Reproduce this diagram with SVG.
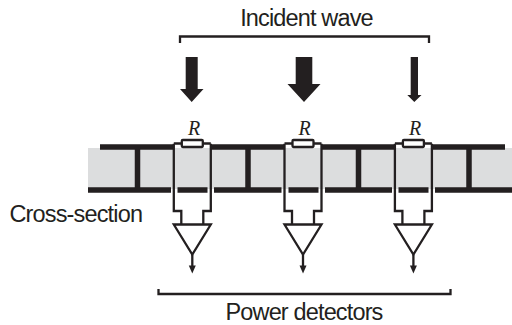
<svg xmlns="http://www.w3.org/2000/svg" width="512" height="325" viewBox="0 0 512 325">
<defs>
<style>
.t{font-family:"Liberation Sans",Arial,sans-serif;font-size:23.500px;fill:#231f20;letter-spacing:-.85px}
.r{font-family:"Liberation Serif","Times New Roman",serif;font-style:italic;font-size:20px;fill:#231f20}
.thick{stroke:#231f20;stroke-width:5.500;fill:none}
.thin{stroke:#231f20;stroke-width:2.300;fill:none}
.a{fill:#231f20}
</style>
<g id="det">
<path class="thin" d="M-18.500 -2.700V64.500H-11V78M18.500 -2.700V64.500H11V78"/>
<path class="thin" d="M-18.500 -3H-10.500M10.500 -3H18.500"/>
<rect x="-10.500" y="-6.500" width="21" height="7" rx="1" fill="#fff" stroke="#231f20" stroke-width="2.300"/>
<path d="M-18.500 78H18.500L0 108Z" fill="#fff" stroke="#231f20" stroke-width="2.300" stroke-linejoin="miter"/>
<path class="thin" d="M0 108V120"/>
<path class="a" d="M-3.500 119H3.500L0 127Z"/>
</g>
</defs>
<rect id="substrate" x="88" y="148" width="424" height="41" fill="#dcddde"/>
<g id="connectors">
<path class="thick" d="M100 147H174M211 147H285M322 147H395M432 147H505"/>
<path class="thick" d="M88 190H171M177.500 190H207.500M214 190H281.500M288.500 190H318.500M325 190H392M398.500 190H428.500M435 190H512"/>
<path class="thick" d="M137.500 147V190M248 147V190M358.500 147V190M469 147V190"/>
<path class="thin" d="M180 43V36.500H429V43"/>
<path class="thin" d="M158.500 289V294H450.500V289"/>
<path class="a" d="M185.700 57H197.700V89H203.500L191.700 102L180 89H185.700Z"/>
<path class="a" d="M295.700 57H312.300V84H320.500L304 102L287.500 84H295.700Z"/>
<path class="a" d="M410.700 57H418V95H421.500L414.300 102L407.300 95H410.700Z"/>
</g>
<g id="detector-1"><use href="#det" x="192.300" y="146.500"/></g>
<g id="detector-2"><use href="#det" x="303" y="146.500"/></g>
<g id="detector-3"><use href="#det" x="413.400" y="146.500"/></g>
<g id="labels">
<text class="t" x="306.500" y="26" text-anchor="middle">Incident wave</text>
<text class="t" x="304" y="320" text-anchor="middle">Power detectors</text>
<text class="t" x="9.500" y="222">Cross-section</text>
<text class="r" x="194" y="134.500" text-anchor="middle">R</text>
<text class="r" x="304.500" y="134.500" text-anchor="middle">R</text>
<text class="r" x="415" y="134.500" text-anchor="middle">R</text>
</g>
</svg>
